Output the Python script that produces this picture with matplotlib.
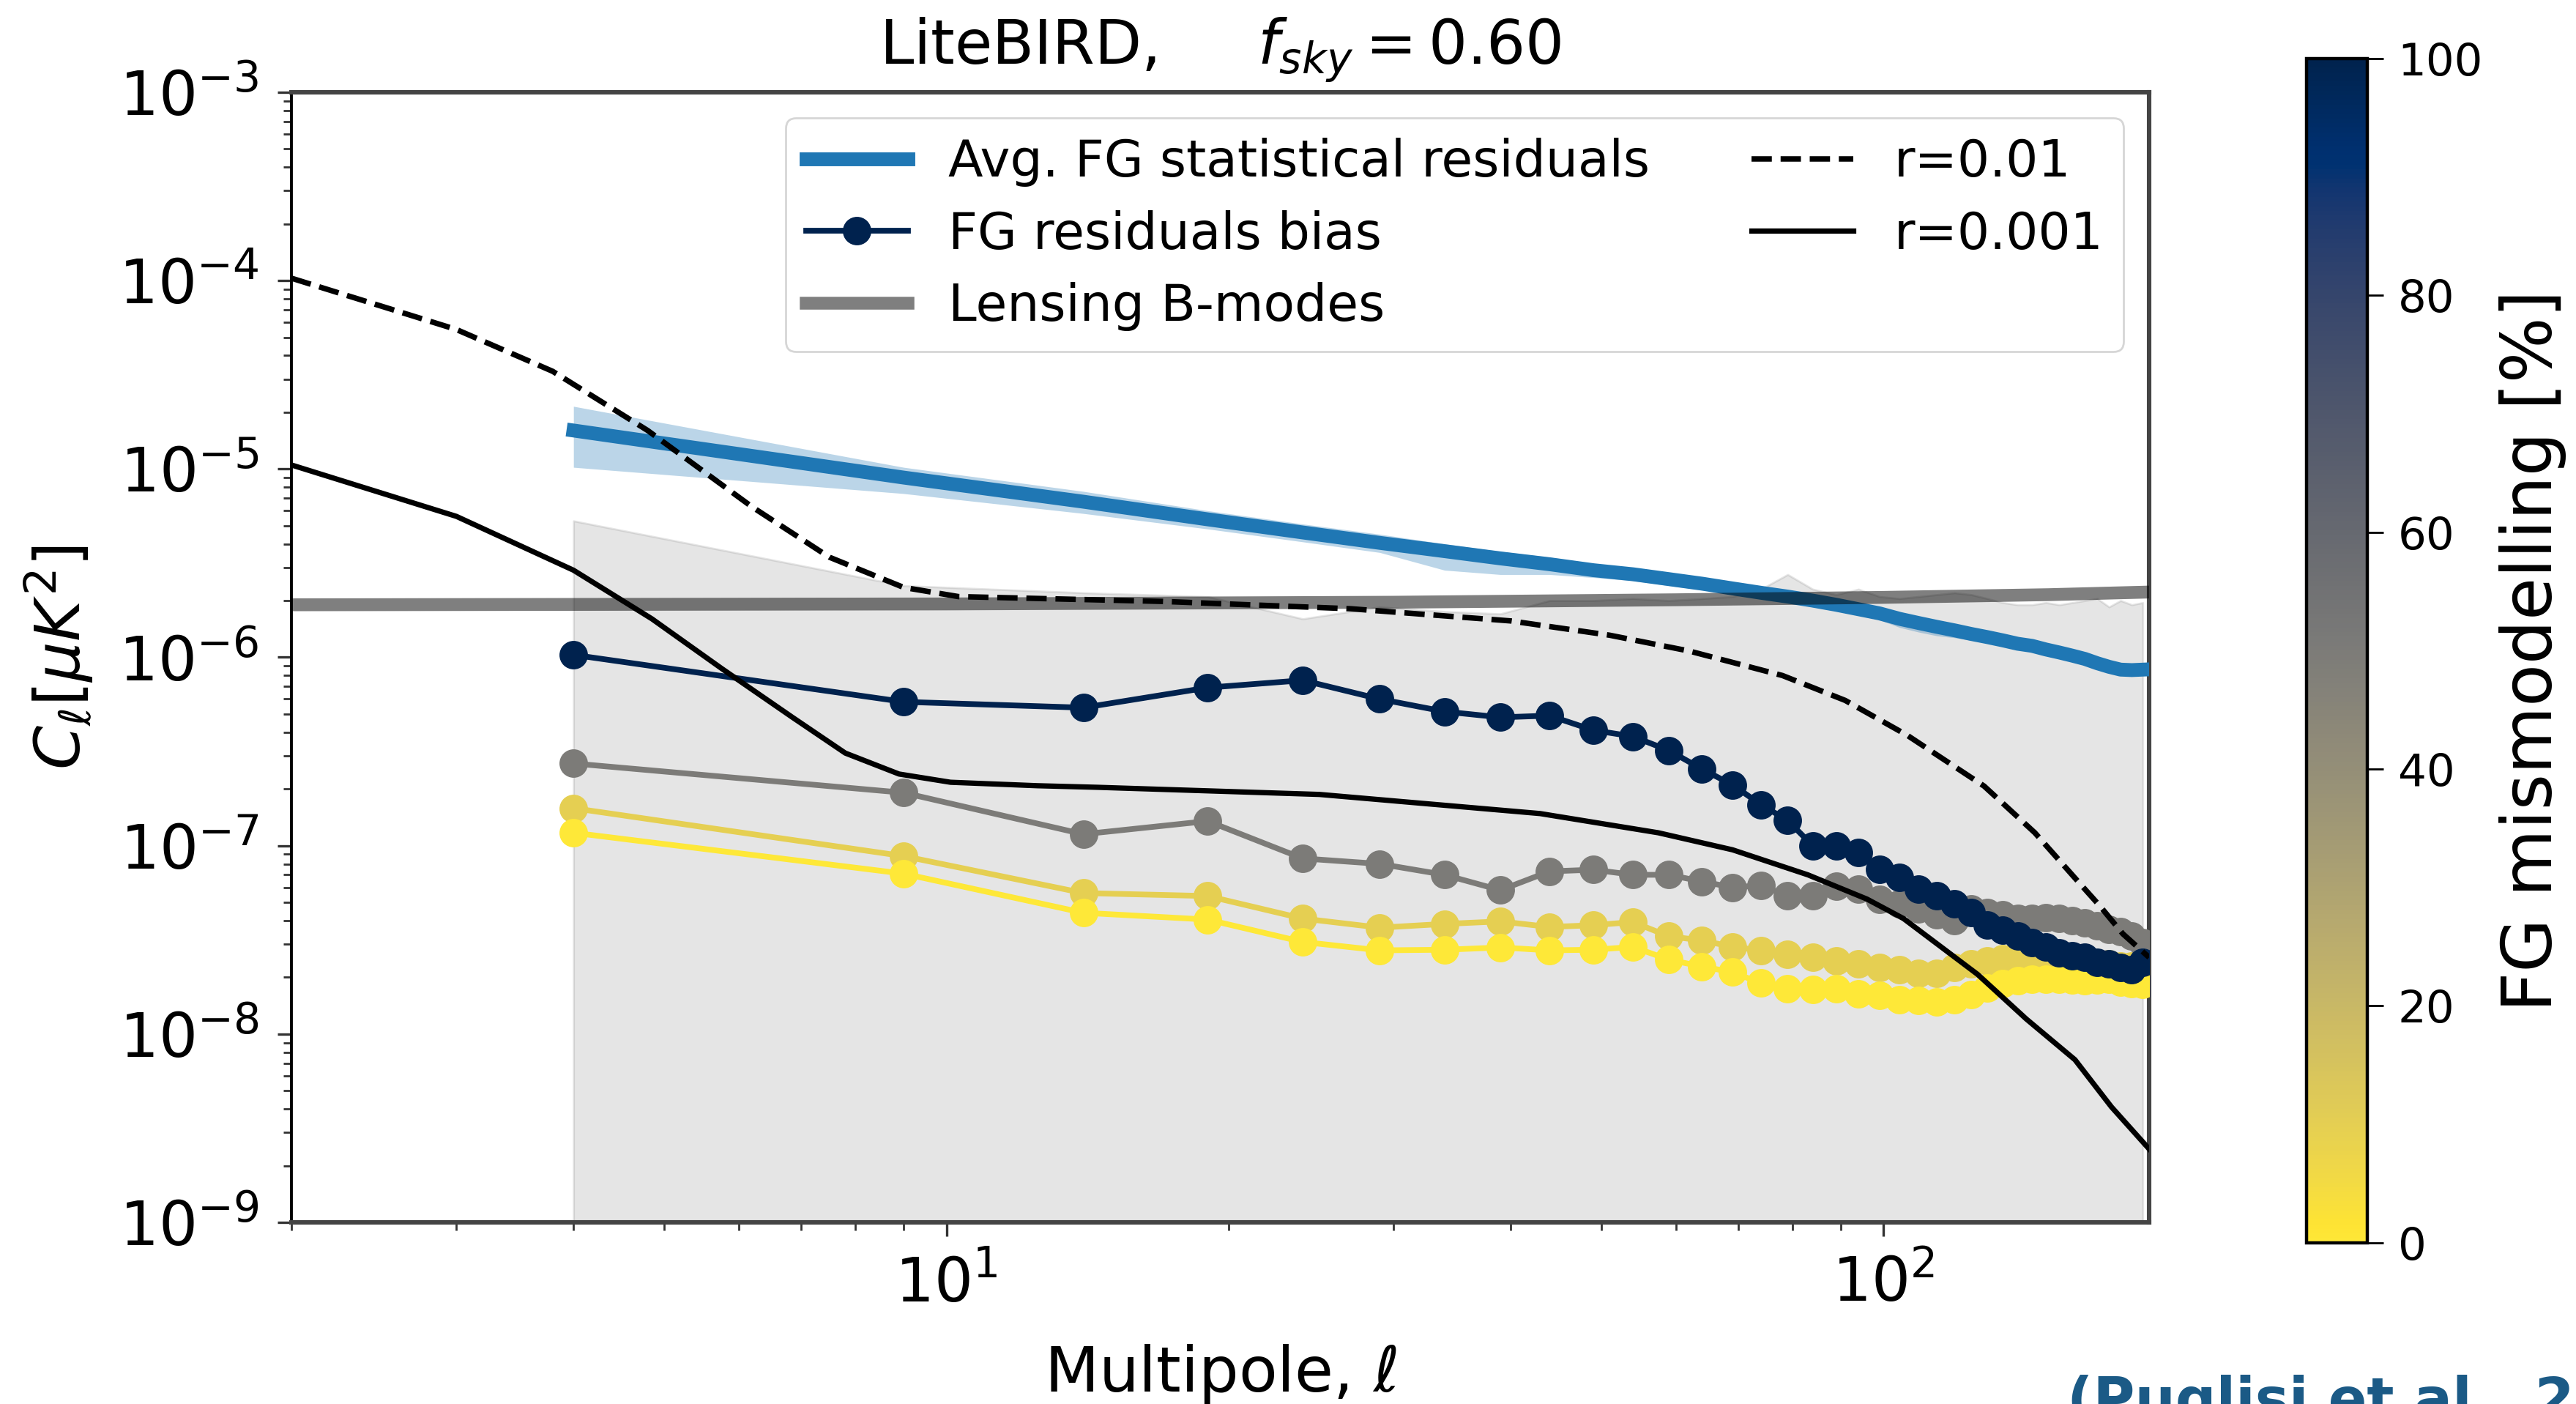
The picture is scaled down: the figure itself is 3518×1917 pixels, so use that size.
"""LiteBIRD foreground residuals compared with primordial and lensing B-modes.

Binned FG residual bias for several levels of foreground mismodelling,
coloured along a cividis colour bar, together with the average statistical
residuals, the lensing B-mode spectrum and r=0.01 / r=0.001 references.
"""

import matplotlib

matplotlib.use("Agg")
import matplotlib.pyplot as plt
from matplotlib import cm, colors

# multipole bins (delta ell = 5, starting at ell = 4)
ELL_BINS = [4, 9, 14, 19, 24, 29, 34, 39, 44, 49, 54, 59, 64, 69, 74, 79, 84, 89, 94,
            99, 104, 109, 114, 119, 124, 129, 134, 139, 144, 149, 154, 159, 164, 169,
            174, 179, 184, 189]

# average FG statistical residuals (mean and band)
STAT_RES = [1.6e-5, 9.0e-6, 6.7e-6, 5.4e-6, 4.6e-6, 4.05e-6, 3.66e-6, 3.35e-6, 3.12e-6,
            2.9e-6, 2.76e-6, 2.6e-6, 2.46e-6, 2.32e-6, 2.2e-6, 2.1e-6, 2.0e-6, 1.9e-6,
            1.8e-6, 1.71e-6, 1.6e-6, 1.52e-6, 1.45e-6, 1.39e-6, 1.33e-6, 1.28e-6, 1.23e-6,
            1.18e-6, 1.15e-6, 1.1e-6, 1.06e-6, 1.02e-6, 9.8e-7, 9.3e-7, 8.9e-7, 8.6e-7,
            8.55e-7, 8.6e-7]
STAT_RES_LO = [1.02e-5, 7.4e-6, 5.8e-6, 4.8e-6, 4.1e-6, 3.6e-6, 2.9e-6, 2.75e-6, 2.75e-6,
               2.65e-6, 2.55e-6, 2.4e-6, 2.28e-6, 2.15e-6, 2.04e-6, 1.95e-6, 1.85e-6,
               1.76e-6, 1.67e-6, 1.58e-6, 1.44e-6, 1.36e-6, 1.3e-6, 1.27e-6, 1.23e-6,
               1.19e-6, 1.14e-6, 1.1e-6, 1.07e-6, 1.02e-6, 9.9e-7, 9.5e-7, 9.1e-7, 8.7e-7,
               8.3e-7, 8.0e-7, 8.0e-7, 8.0e-7]
STAT_RES_HI = [2.15e-5, 1.02e-5, 7.6e-6, 6.0e-6, 5.1e-6, 4.5e-6, 4.0e-6, 3.65e-6, 3.4e-6,
               3.15e-6, 2.98e-6, 2.8e-6, 2.64e-6, 2.5e-6, 2.36e-6, 2.25e-6, 2.15e-6,
               2.04e-6, 1.93e-6, 1.84e-6, 1.72e-6, 1.63e-6, 1.56e-6, 1.5e-6, 1.43e-6,
               1.37e-6, 1.32e-6, 1.26e-6, 1.23e-6, 1.18e-6, 1.13e-6, 1.09e-6, 1.05e-6,
               9.9e-7, 9.5e-7, 9.2e-7, 9.1e-7, 9.2e-7]

# upper edge of the grey shaded band
SHADE_TOP = [5.3e-6, 2.4e-6, 2.2e-6, 2.1e-6, 1.6e-6, 1.85e-6, 1.75e-6, 1.7e-6, 2.0e-6,
             2.0e-6, 2.05e-6, 2.0e-6, 2.05e-6, 2.1e-6, 2.3e-6, 2.75e-6, 2.3e-6, 2.15e-6,
             2.3e-6, 2.1e-6, 2.05e-6, 2.1e-6, 2.15e-6, 2.2e-6, 2.15e-6, 2.05e-6, 1.95e-6,
             1.9e-6, 1.9e-6, 1.95e-6, 1.9e-6, 1.95e-6, 2.0e-6, 2.05e-6, 1.85e-6, 2.0e-6,
             1.9e-6, 1.95e-6]

# FG residuals bias for each mismodelling level [%]
MISMODELLING = [10, 0, 50, 100]
BIAS = {
    10: [1.58e-7, 8.8e-8, 5.6e-8, 5.4e-8, 4.1e-8, 3.67e-8, 3.84e-8, 3.96e-8, 3.7e-8,
         3.78e-8, 3.93e-8, 3.3e-8, 3.14e-8, 2.9e-8, 2.78e-8, 2.65e-8, 2.55e-8, 2.45e-8,
         2.35e-8, 2.25e-8, 2.2e-8, 2.1e-8, 2.1e-8, 2.25e-8, 2.35e-8, 2.45e-8, 2.5e-8,
         2.55e-8, 2.55e-8, 2.5e-8, 2.45e-8, 2.4e-8, 2.4e-8, 2.35e-8, 2.35e-8, 2.3e-8,
         2.3e-8, 2.25e-8],
    0: [1.17e-7, 7.1e-8, 4.4e-8, 4.05e-8, 3.08e-8, 2.78e-8, 2.8e-8, 2.88e-8, 2.78e-8,
        2.8e-8, 2.9e-8, 2.48e-8, 2.28e-8, 2.13e-8, 1.86e-8, 1.74e-8, 1.73e-8, 1.74e-8,
        1.64e-8, 1.6e-8, 1.52e-8, 1.5e-8, 1.48e-8, 1.52e-8, 1.62e-8, 1.75e-8, 1.85e-8,
        1.92e-8, 1.95e-8, 1.95e-8, 1.95e-8, 1.93e-8, 1.92e-8, 1.93e-8, 1.95e-8, 1.88e-8,
        1.85e-8, 1.84e-8],
    50: [2.73e-7, 1.91e-7, 1.15e-7, 1.35e-7, 8.55e-8, 8.0e-8, 7.0e-8, 5.8e-8, 7.3e-8,
         7.45e-8, 7.0e-8, 7.0e-8, 6.45e-8, 6.0e-8, 6.15e-8, 5.4e-8, 5.4e-8, 6.1e-8,
         5.9e-8, 5.2e-8, 4.9e-8, 4.6e-8, 4.3e-8, 4.0e-8, 4.6e-8, 4.4e-8, 4.3e-8, 4.1e-8,
         4.1e-8, 4.15e-8, 4.1e-8, 4.0e-8, 3.9e-8, 3.75e-8, 3.6e-8, 3.5e-8, 3.3e-8,
         3.05e-8],
    100: [1.03e-6, 5.8e-7, 5.4e-7, 6.9e-7, 7.55e-7, 6.0e-7, 5.15e-7, 4.8e-7, 4.9e-7,
          4.1e-7, 3.8e-7, 3.2e-7, 2.55e-7, 2.1e-7, 1.65e-7, 1.36e-7, 1.0e-7, 1.0e-7,
          9.2e-8, 7.5e-8, 6.8e-8, 5.9e-8, 5.4e-8, 4.9e-8, 4.4e-8, 3.8e-8, 3.55e-8,
          3.3e-8, 3.05e-8, 2.9e-8, 2.7e-8, 2.6e-8, 2.55e-8, 2.4e-8, 2.35e-8, 2.25e-8,
          2.2e-8, 2.4e-8],
}

# lensing B-modes
LENS_ELL = [2, 10, 30, 60, 100, 150, 192]
LENS_CL = [1.9e-6, 1.92e-6, 1.96e-6, 2.02e-6, 2.08e-6, 2.15e-6, 2.22e-6]

# primordial tensor B-modes
R01_ELL = [2, 3, 3.8, 4.8, 6.2, 7.5, 9, 10.3, 17, 27, 40, 51, 62, 78, 91, 106, 128, 145,
           161, 170, 180, 192]
R01_CL = [1.03e-4, 5.5e-5, 3.3e-5, 1.6e-5, 6.3e-6, 3.4e-6, 2.35e-6, 2.1e-6, 1.98e-6,
          1.81e-6, 1.56e-6, 1.31e-6, 1.08e-6, 8.0e-7, 5.9e-7, 3.85e-7, 2.07e-7, 1.17e-7,
          6.5e-8, 4.8e-8, 3.4e-8, 2.55e-8]
R001_ELL = [2, 3, 4, 4.85, 5.76, 6.85, 7.8, 8.9, 10.1, 12.5, 14.5, 25, 43, 57.5, 69, 83,
            96, 105, 126, 142, 160, 175, 192]
R001_CL = [1.05e-5, 5.6e-6, 2.9e-6, 1.6e-6, 8.7e-7, 4.8e-7, 3.1e-7, 2.4e-7, 2.17e-7,
           2.08e-7, 2.04e-7, 1.87e-7, 1.48e-7, 1.17e-7, 9.5e-8, 7.0e-8, 5.2e-8, 4.1e-8,
           2.07e-8, 1.2e-8, 7.3e-9, 4.1e-9, 2.45e-9]

CBAR_TICKS = [0, 20, 40, 60, 80, 100]

DPI = 200
CMAP = plt.get_cmap("cividis_r")
NORM = colors.Normalize(vmin=0, vmax=100)


def plot_spectra(ax):
    """Draw residuals, bias curves, lensing and tensor references."""

    ax.fill_between(ELL_BINS, 1e-12, SHADE_TOP, color="gray", alpha=0.2, lw=1.0, zorder=1)
    ax.fill_between(ELL_BINS, STAT_RES_LO, STAT_RES_HI, color="tab:blue", alpha=0.3,
                    lw=0, zorder=2)
    ax.plot(ELL_BINS, STAT_RES, color="tab:blue", lw=6.8, zorder=3,
            label="Avg. FG statistical residuals")

    for level in MISMODELLING:
        kwargs = {"label": "FG residuals bias"} if level == 100 else {}
        ax.plot(ELL_BINS, BIAS[level], "-o", color=CMAP(NORM(level)), lw=2.8, ms=13,
                zorder=4, **kwargs)

    ax.plot(LENS_ELL, LENS_CL, color="k", alpha=0.5, lw=6.3, zorder=5, label="Lensing B-modes")
    ax.plot(R01_ELL, R01_CL, "--", color="k", lw=2.7, zorder=6, label="r=0.01")
    ax.plot(R001_ELL, R001_CL, "-", color="k", lw=2.6, zorder=6, label="r=0.001")


def style_axis(ax):
    ax.set_xscale("log")
    ax.set_yscale("log")
    ax.set_xlim(2, 192)
    ax.set_ylim(1e-9, 1e-3)
    ax.set_title(r"LiteBIRD,     $f_{sky} = 0.60$", fontsize=30, pad=14)
    ax.set_xlabel(r"Multipole, $\ell$", fontsize=31, labelpad=14)
    ax.set_ylabel(r"$C_{\ell} [\mu K^2]$", fontsize=31, labelpad=11)
    ax.tick_params(which="major", length=7, width=1.2, labelsize=30, color="#333333", pad=9)
    ax.tick_params(which="minor", length=3.8, width=1.0, color="#333333")
    for side in ("top", "right", "bottom"):
        ax.spines[side].set_linewidth(2.2)
        ax.spines[side].set_color("#444444")
    ax.spines["left"].set_linewidth(1.4)
    ax.spines["left"].set_color("black")

    handles, labels = ax.get_legend_handles_labels()
    order = ["Avg. FG statistical residuals", "FG residuals bias", "Lensing B-modes",
             "r=0.01", "r=0.001"]
    picked = [handles[labels.index(name)] for name in order]
    ax.legend(picked, order, ncol=2, loc="upper right", fontsize=25, numpoints=1,
              labelspacing=0.45)


def main():
    fig = plt.figure(figsize=(3518 / DPI, 1917 / DPI), dpi=DPI)
    ax = fig.add_axes([0.1131, 0.1294, 0.7212, 0.8049])
    plot_spectra(ax)
    style_axis(ax)

    cax = fig.add_axes([0.8954, 0.1148, 0.0236, 0.8437])
    sm = cm.ScalarMappable(norm=NORM, cmap=CMAP)
    cbar = fig.colorbar(sm, cax=cax, ticks=CBAR_TICKS)
    cbar.outline.set_linewidth(1.6)
    cbar.ax.tick_params(labelsize=22, length=8, width=1.0, pad=7)
    cbar.set_label("FG mismodelling [%]", fontsize=34, labelpad=8)

    # slide citation, partly cut by the lower edge as in the source slide
    fig.text(0.8024, -0.0104, "(Puglisi et al., 2022)", fontsize=28, fontweight="bold",
             color="#1b5a86", ha="left", va="baseline")

    fig.savefig("out.png", dpi=DPI)
    plt.close(fig)


if __name__ == "__main__":
    main()
